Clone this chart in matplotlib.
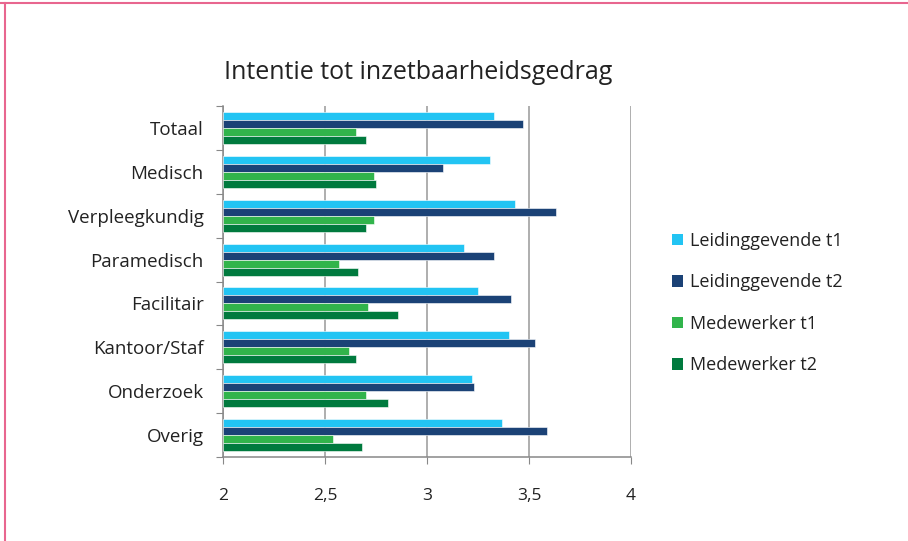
import numpy as np
import matplotlib.pyplot as plt
from matplotlib.patches import Patch
from matplotlib.lines import Line2D

# data
categories = ["Totaal", "Medisch", "Verpleegkundig", "Paramedisch",
              "Facilitair", "Kantoor/Staf", "Onderzoek", "Overig"]
series_names = ["Leidinggevende t1", "Leidinggevende t2", "Medewerker t1", "Medewerker t2"]
lg_t1 = [3.33, 3.31, 3.43, 3.18, 3.25, 3.40, 3.22, 3.37]
lg_t2 = [3.47, 3.08, 3.63, 3.33, 3.41, 3.53, 3.23, 3.59]
mw_t1 = [2.65, 2.74, 2.74, 2.57, 2.71, 2.62, 2.70, 2.54]
mw_t2 = [2.70, 2.75, 2.70, 2.66, 2.86, 2.65, 2.81, 2.68]
x_ticks = [2, 2.5, 3, 3.5, 4]
x_labels = ["2", "2,5", "3", "3,5", "4"]

colors = ["#22C4F3", "#1B4276", "#31B44B", "#007A3E"]
series = [lg_t1, lg_t2, mw_t1, mw_t2]

plt.rcParams['font.family'] = ['Open Sans', 'DejaVu Sans']

fig = plt.figure(figsize=(9.08, 5.41), dpi=100)
ax = fig.add_axes([223/908, 1-457/541, (631-223)/908, (457-106)/541])

y = np.arange(len(categories))
h = 8/44
for i, (vals, c) in enumerate(zip(series, colors)):
    ax.barh(y + (i - 1.5) * h, np.array(vals) - 2, left=2, height=h,
            color=c, edgecolor="white", linewidth=0.4, zorder=3)

ax.set_xlim(2, 4)
ax.set_ylim(len(categories) - 0.5, -0.5)

ax.set_xticks(x_ticks)
ax.set_xticklabels(x_labels, fontsize=12.5, color="#222222")
ax.tick_params(axis="x", length=5, color="#888888", pad=17)
ax.xaxis.grid(True, color="#999999", linewidth=1.1, zorder=0)

# category ticks at boundaries, labels at centers
ax.set_yticks(np.arange(len(categories) + 1) - 0.5)
ax.set_yticklabels([])
ax.tick_params(axis="y", which="major", length=5, color="#888888")
ax.set_yticks(y, minor=True)
ax.set_yticklabels(categories, minor=True, fontsize=13.5, color="#222222")
ax.tick_params(axis="y", which="minor", length=0, pad=14)

for s in ["top", "right"]:
    ax.spines[s].set_visible(False)
for s in ["left", "bottom"]:
    ax.spines[s].set_color("#888888")
    ax.spines[s].set_linewidth(1.1)

fig.text(418/908, 1-73/541, "Intentie tot inzetbaarheidsgedrag",
         ha="center", va="center", fontsize=18, color="#222222")

handles = [Patch(facecolor=c, edgecolor="none") for c in colors]
fig.legend(handles, series_names, loc="center left",
           bbox_to_anchor=(656/908, 1-303/541), frameon=False,
           fontsize=13, labelspacing=1.3, handlelength=0.6, handleheight=0.6,
           handletextpad=0.4, labelcolor="#222222")

# pink frame on top and left
fig.add_artist(Line2D([0, 1], [1-3/541, 1-3/541], color="#E8668F", linewidth=1.5))
fig.add_artist(Line2D([5/908, 5/908], [0, 1-3/541], color="#E8668F", linewidth=1.5))

fig.savefig("out.png", dpi=100)
